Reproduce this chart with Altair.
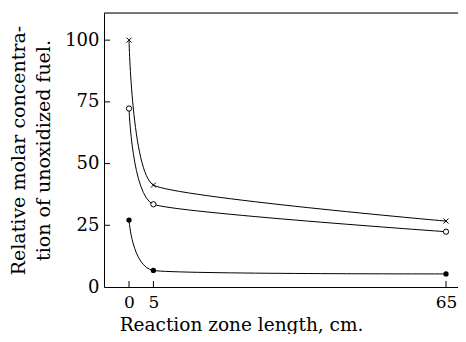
import altair as alt
import pandas as pd

x_cm = [0, 5, 65]
cross_vals = [100, 41.3, 26.7]
open_vals = [72.3, 33.5, 22.4]
filled_vals = [27.1, 6.7, 5.3]
y_tick_values = [0, 25, 50, 75, 100]
x_tick_values = [0, 5, 65]

FONT = "DejaVu Serif"
W, H = 354, 274

xs = alt.Scale(domain=[-5.13, 67.46], nice=False, zero=False)
ys = alt.Scale(domain=[0, 111], nice=False, zero=False)

X = alt.X("x:Q", scale=xs, axis=alt.Axis(
    values=x_tick_values, ticks=False, grid=False, domainColor="black", domainWidth=1,
    labelFont=FONT, labelFontSize=17, labelColor="black", labelPadding=7,
    title="Reaction zone length, cm.", titleFont=FONT, titleFontSize=18.5,
    titleFontWeight="normal", titleColor="black",
    titleX=137, titleY=43, titleAlign="center", titleBaseline="alphabetic"))
Y = alt.Y("y:Q", scale=ys, axis=alt.Axis(
    values=y_tick_values, ticks=False, grid=False, domainColor="black", domainWidth=1,
    labelFont=FONT, labelFontSize=18, labelColor="black", labelPadding=5,
    title=["Relative molar concentra-", "tion of unoxidized fuel."],
    titleFont=FONT, titleFontSize=19, titleFontWeight="normal", titleColor="black",
    titlePadding=11, titleLineHeight=25))


def df(vals):
    return pd.DataFrame({"x": x_cm, "y": vals})


layers = []
for vals in (cross_vals, open_vals, filled_vals):
    layers.append(alt.Chart(df(vals)).mark_line(
        interpolate="cardinal", tension=0.6, color="black", strokeWidth=1).encode(x=X, y=Y))

layers.append(alt.Chart(df(cross_vals)).mark_point(
    shape="M-1,-1L1,1M-1,1L1,-1", size=25, filled=False, color="black",
    strokeWidth=1, opacity=1).encode(x=X, y=Y))
layers.append(alt.Chart(df(open_vals)).mark_point(
    shape="circle", size=28, filled=False, color="black", fill="white",
    strokeWidth=1, opacity=1).encode(x=X, y=Y))
layers.append(alt.Chart(df(filled_vals)).mark_point(
    shape="circle", size=28, filled=True, color="black", opacity=1).encode(x=X, y=Y))

ytk = pd.DataFrame({"y": y_tick_values[1:]})
layers.append(alt.Chart(ytk).mark_rule(color="black", strokeWidth=1).encode(
    y=Y, x=alt.value(0), x2=alt.value(6)))
xtk = pd.DataFrame({"x": x_tick_values})
layers.append(alt.Chart(xtk).mark_rule(color="black", strokeWidth=1).encode(
    x=X, y=alt.value(H), y2=alt.value(H - 6)))
layers.append(alt.Chart(pd.DataFrame({"a": [0]})).mark_rule(
    color="black", strokeWidth=1.2).encode(x=alt.value(0), x2=alt.value(W), y=alt.value(0)))

chart = alt.layer(*layers).properties(
    width=W, height=H,
    autosize=alt.AutoSizeParams(type="none"),
    padding={"left": 96, "top": 5, "right": 0, "bottom": 47},
).configure_view(stroke=None).configure(background="white")

chart.save("out.html", embed_options={"renderer": "svg", "actions": False})
